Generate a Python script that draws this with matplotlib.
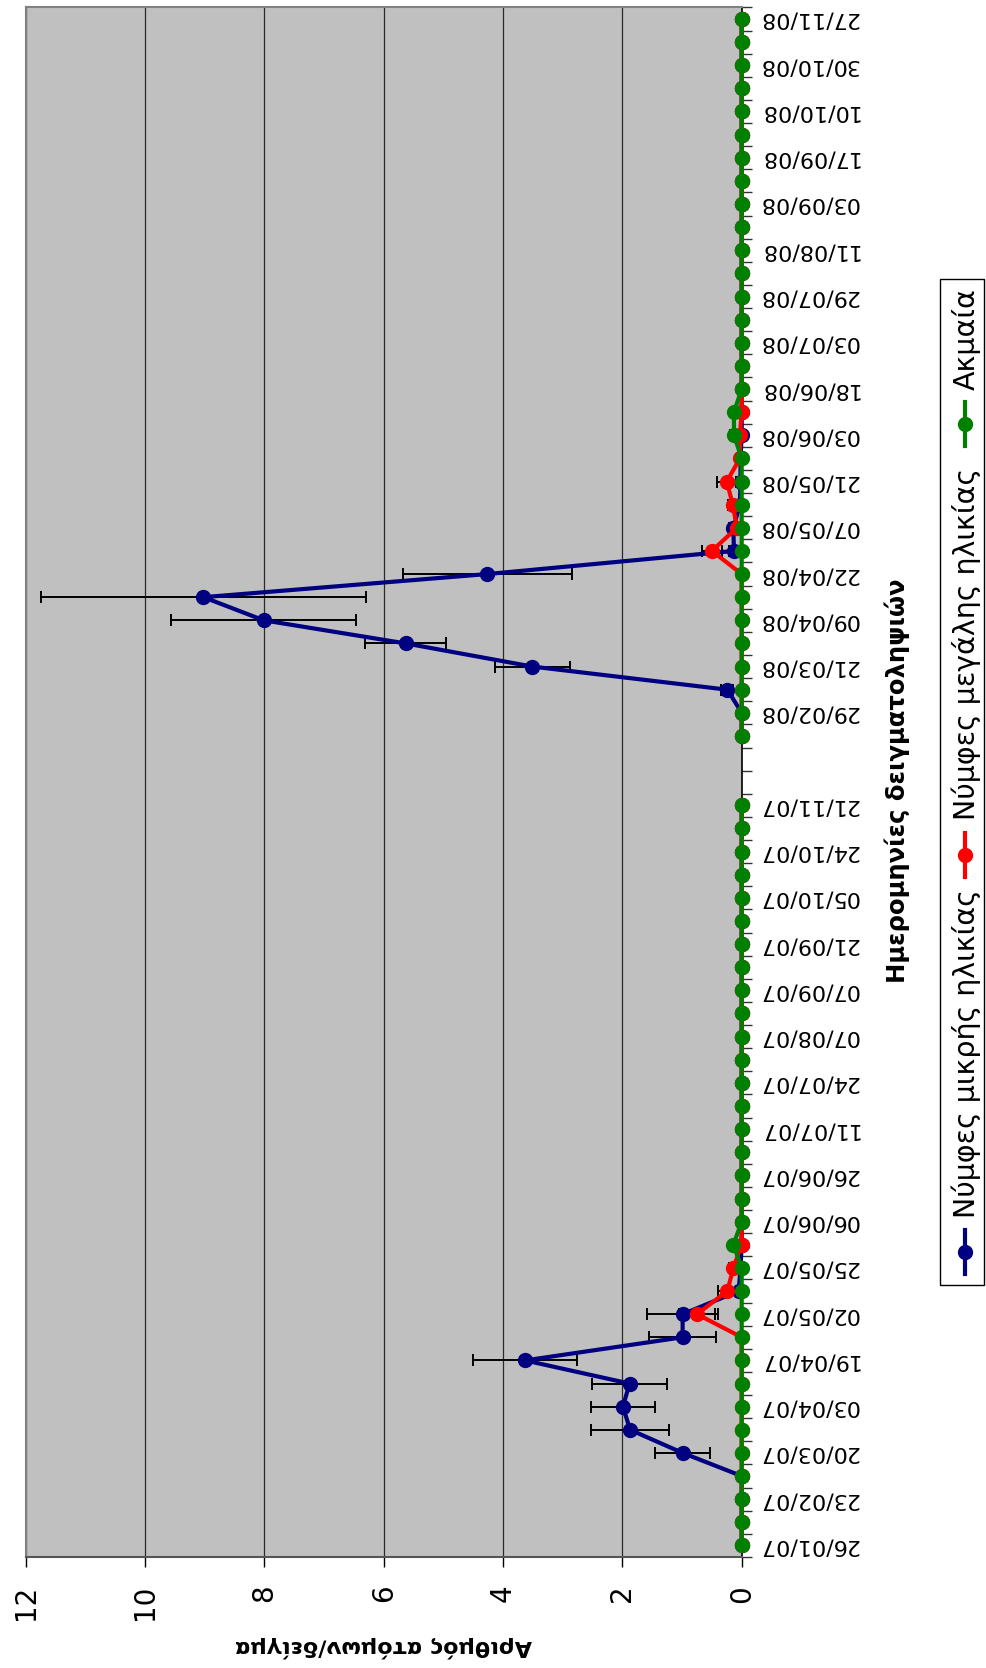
import numpy as np
import matplotlib.pyplot as plt
from matplotlib.lines import Line2D
from matplotlib.patches import Rectangle

nan = np.nan

# Sampling dates, only every second one is labelled on the axis
tick_labels = ['26/01/07', '23/02/07', '20/03/07', '03/04/07', '19/04/07', '02/05/07',
               '25/05/07', '06/06/07', '26/06/07', '11/07/07', '24/07/07', '07/08/07',
               '07/09/07', '21/09/07', '05/10/07', '24/10/07', '21/11/07', '',
               '29/02/08', '21/03/08', '09/04/08', '22/04/08', '07/05/08', '21/05/08',
               '03/06/08', '18/06/08', '03/07/08', '29/07/08', '11/08/08', '03/09/08',
               '17/09/08', '10/10/08', '30/10/08', '27/11/08']

# Young nymphs
young = [0, 0, 0, 0, 0.99, 1.87, 1.99, 1.88, 3.63, 0.99, 0.99, 0.05, 0.02,
         0, 0, 0, 0, 0, 0, 0, 0, 0, 0, 0, 0, 0, 0, 0, 0, 0, 0, 0, 0,
         nan, nan,
         0, 0, 0.24, 3.51, 5.63, 8.01, 9.02, 4.26, 0.13, 0.14, 0.03, 0.02, 0.02,
         0, 0, 0, 0, 0, 0, 0, 0, 0, 0, 0, 0, 0, 0, 0, 0, 0, 0, 0]
young_err = [0, 0, 0, 0, 0.46, 0.66, 0.54, 0.63, 0.87, 0.56, 0.6, 0, 0,
             0, 0, 0, 0, 0, 0, 0, 0, 0, 0, 0, 0, 0, 0, 0, 0, 0, 0, 0, 0,
             0, 0,
             0, 0, 0.1, 0.63, 0.68, 1.55, 2.73, 1.42, 0.08, 0.08, 0, 0, 0,
             0, 0, 0, 0, 0, 0, 0, 0, 0, 0, 0, 0, 0, 0, 0, 0, 0, 0, 0]

# Older nymphs
old = [0, 0, 0, 0, 0, 0, 0, 0, 0, 0, 0.75, 0.24, 0.14,
       0, 0, 0, 0, 0, 0, 0, 0, 0, 0, 0, 0, 0, 0, 0, 0, 0, 0, 0, 0,
       nan, nan,
       0, 0, 0, 0, 0, 0, 0, 0, 0.5, 0.08, 0.15, 0.25, 0.03,
       0.03, 0, 0, 0, 0, 0, 0, 0, 0, 0, 0, 0, 0, 0, 0, 0, 0, 0, 0]
old_err = [0, 0, 0, 0, 0, 0, 0, 0, 0, 0, 0.3, 0.16, 0.08,
           0, 0, 0, 0, 0, 0, 0, 0, 0, 0, 0, 0, 0, 0, 0, 0, 0, 0, 0, 0,
           0, 0,
           0, 0, 0, 0, 0, 0, 0, 0, 0.17, 0, 0.08, 0.16, 0,
           0, 0, 0, 0, 0, 0, 0, 0, 0, 0, 0, 0, 0, 0, 0, 0, 0, 0, 0]

# Adults
adult = [0, 0, 0, 0, 0, 0, 0, 0, 0, 0, 0, 0, 0,
         0.14, 0, 0, 0, 0, 0, 0, 0, 0, 0, 0, 0, 0, 0, 0, 0, 0, 0, 0, 0,
         nan, nan,
         0, 0, 0, 0, 0, 0, 0, 0, 0, 0, 0, 0, 0,
         0.13, 0.13, 0, 0, 0, 0, 0, 0, 0, 0, 0, 0, 0, 0, 0, 0, 0, 0, 0]
adult_err = [0, 0, 0, 0, 0, 0, 0, 0, 0, 0, 0, 0, 0,
             0, 0, 0, 0, 0, 0, 0, 0, 0, 0, 0, 0, 0, 0, 0, 0, 0, 0, 0, 0,
             0, 0,
             0, 0, 0, 0, 0, 0, 0, 0, 0, 0, 0, 0, 0,
             0.07, 0, 0, 0, 0, 0, 0, 0, 0, 0, 0, 0, 0, 0, 0, 0, 0, 0, 0]

names = ['Νύμφες μικρής ηλικίας', 'Νύμφες μεγάλης ηλικίας', 'Ακμαία']
colors = ['#000080', '#FF0000', '#008000']

W, H = 986, 1668
fig = plt.figure(figsize=(W / 100, H / 100), dpi=100)

# the whole chart is turned a quarter turn: values run right to left, dates bottom to top
ax = fig.add_axes([25.6 / W, (H - 1557) / H, (741.7 - 25.6) / W, (1557 - 7.4) / H])
ax.set_facecolor('#C0C0C0')

pos = np.arange(len(young))
series = [(young, young_err), (old, old_err), (adult, adult_err)]
for k, (vals, errs) in enumerate(series):
    vals = np.array(vals, dtype=float)
    errs = np.array(errs, dtype=float)
    # markers at zero sit on the axis edge, so do not clip them
    ax.plot(vals, pos, color=colors[k], lw=3, marker='o', ms=10, zorder=3 + k,
            clip_on=False)
    m = errs > 0
    ax.errorbar(vals[m], pos[m], xerr=errs[m], fmt='none', ecolor='black',
                elinewidth=1.4, capsize=4, capthick=1.4, zorder=2)

ax.set_xlim(12, 0)
ax.set_ylim(-0.5, len(pos) - 0.5)

ax.set_xticks(np.arange(0, 13, 2))
ax.tick_params(axis='x', length=7, width=1, pad=13, labelsize=20, labelrotation=90)
ax.grid(axis='x', color='#2a2a2a', lw=0.9)
ax.set_axisbelow(True)

ax.yaxis.tick_right()
ax.set_yticks(np.arange(0, len(pos), 2))
ax.set_yticklabels(tick_labels)
ax.set_yticks(np.arange(-0.5, len(pos), 1), minor=True)
ax.tick_params(axis='y', which='major', length=0, pad=12, labelsize=16, labelrotation=180)
ax.tick_params(axis='y', which='minor', length=7, width=1, direction='out',
               left=False, right=True, color='#333333')
plt.setp(ax.get_yticklabels(), ha='left', va='center')

ax.spines['right'].set_color('black')
ax.spines['right'].set_linewidth(1.2)
ax.spines['bottom'].set_color('#555555')
ax.spines['bottom'].set_linewidth(1.5)
for s in ['left', 'top']:
    ax.spines[s].set_color('#808080')
    ax.spines[s].set_linewidth(1.5)

# axis titles
fig.text(384 / W, 1 - 1647 / H, 'Αριθμός ατόμων/δείγμα', rotation=180,
         ha='center', va='center', fontsize=16, fontweight='bold')
fig.text(897 / W, 1 - 781 / H, 'Ημερομηνίες δειγματοληψιών', rotation=90,
         ha='center', va='center', fontsize=17.5, fontweight='bold')

# legend box, drawn by hand because its text runs vertically
fig.add_artist(Rectangle((940 / W, 1 - 1285 / H), 44 / W, (1285 - 279) / H,
                         transform=fig.transFigure, facecolor='white',
                         edgecolor='black', lw=1))
handle_y = [1252, 855, 424]
text_y = [1218, 820, 390]
for k in range(3):
    hy = handle_y[k]
    fig.add_artist(Line2D([965 / W, 965 / W], [1 - (hy + 22) / H, 1 - (hy - 22) / H],
                          transform=fig.transFigure, color=colors[k], lw=3))
    fig.add_artist(Line2D([965 / W], [1 - hy / H], transform=fig.transFigure,
                          color=colors[k], marker='o', ms=10))
    fig.text(966 / W, 1 - text_y[k] / H, names[k], rotation=90, ha='center',
             va='bottom', fontsize=20.5)

plt.savefig('out.png', dpi=100)
